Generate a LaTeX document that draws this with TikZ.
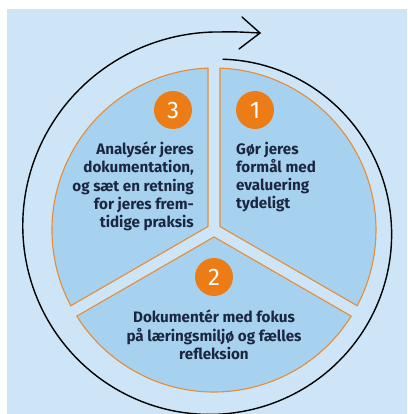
\documentclass[tikz,border=0pt]{standalone}
\usepackage{fontspec}
\setmainfont{Fira Sans}
\definecolor{bgblue}{RGB}{205,229,247}
\definecolor{segblue}{RGB}{166,210,240}
\definecolor{segline}{RGB}{232,140,50}
\definecolor{numorange}{RGB}{236,125,22}
\definecolor{txt}{RGB}{28,38,64}
\begin{document}
\begin{tikzpicture}[x=1pt,y=1pt,
  seg/.style={fill=segblue,draw=segline,line width=1.1pt,line join=miter},
  num/.style={circle,fill=numorange,minimum size=38pt,inner sep=0pt,text=white,font=\fontsize{24}{24}\selectfont},
  lbl/.style={text=txt,font=\bfseries\fontsize{15.2}{18.3}\selectfont,inner sep=0pt},
  loop/.style={draw=black,line width=1.4pt,line cap=round}]
\useasboundingbox (-214,-184) rectangle (193,230);
\fill[bgblue] (-207,-184) rectangle (193,221);
% segments
\def\R{162}
\path[seg] (30:6.93) -- (87.88:\R) arc[start angle=87.88,end angle=-27.88,radius=\R] -- cycle;
\path[seg] (-90:6.93) -- (-32.12:\R) arc[start angle=-32.12,end angle=-147.88,radius=\R] -- cycle;
\path[seg] (150:6.93) -- (207.88:\R) arc[start angle=207.88,end angle=92.12,radius=\R] -- cycle;
% spiral arrow
\coordinate (tip) at (46,197);
\coordinate (armA) at (28,213);
\coordinate (armB) at (25,181);
\draw[loop] plot[domain=87:-272,samples=150,smooth] ({(171+(87-\x)/357*27)*cos(\x)},{(171+(87-\x)/357*27)*sin(\x)}) .. controls (20,198.3) .. (tip);
\draw[loop,line join=miter] (armA) -- (tip) -- (armB);
% numbers
\node[num] (n1) at (41,120) {1};
\node[num] (n2) at (0,-47) {2};
\node[num] (n3) at (-41,120) {3};
% labels
\node[lbl,align=left,anchor=west] (t1) at (22,53) {Gør jeres\\formål med\\evaluering\\tydeligt};
\node[lbl,align=center] (t2) at (0,-105) {Dokumentér med fokus\\på læringsmiljø og fælles\\refleksion};
\node[lbl,align=right,anchor=east] (t3) at (-20,43.5) {Analysér jeres\\dokumentation,\\og sæt en retning\\for jeres frem-\\tidige praksis};
\end{tikzpicture}
\end{document}
